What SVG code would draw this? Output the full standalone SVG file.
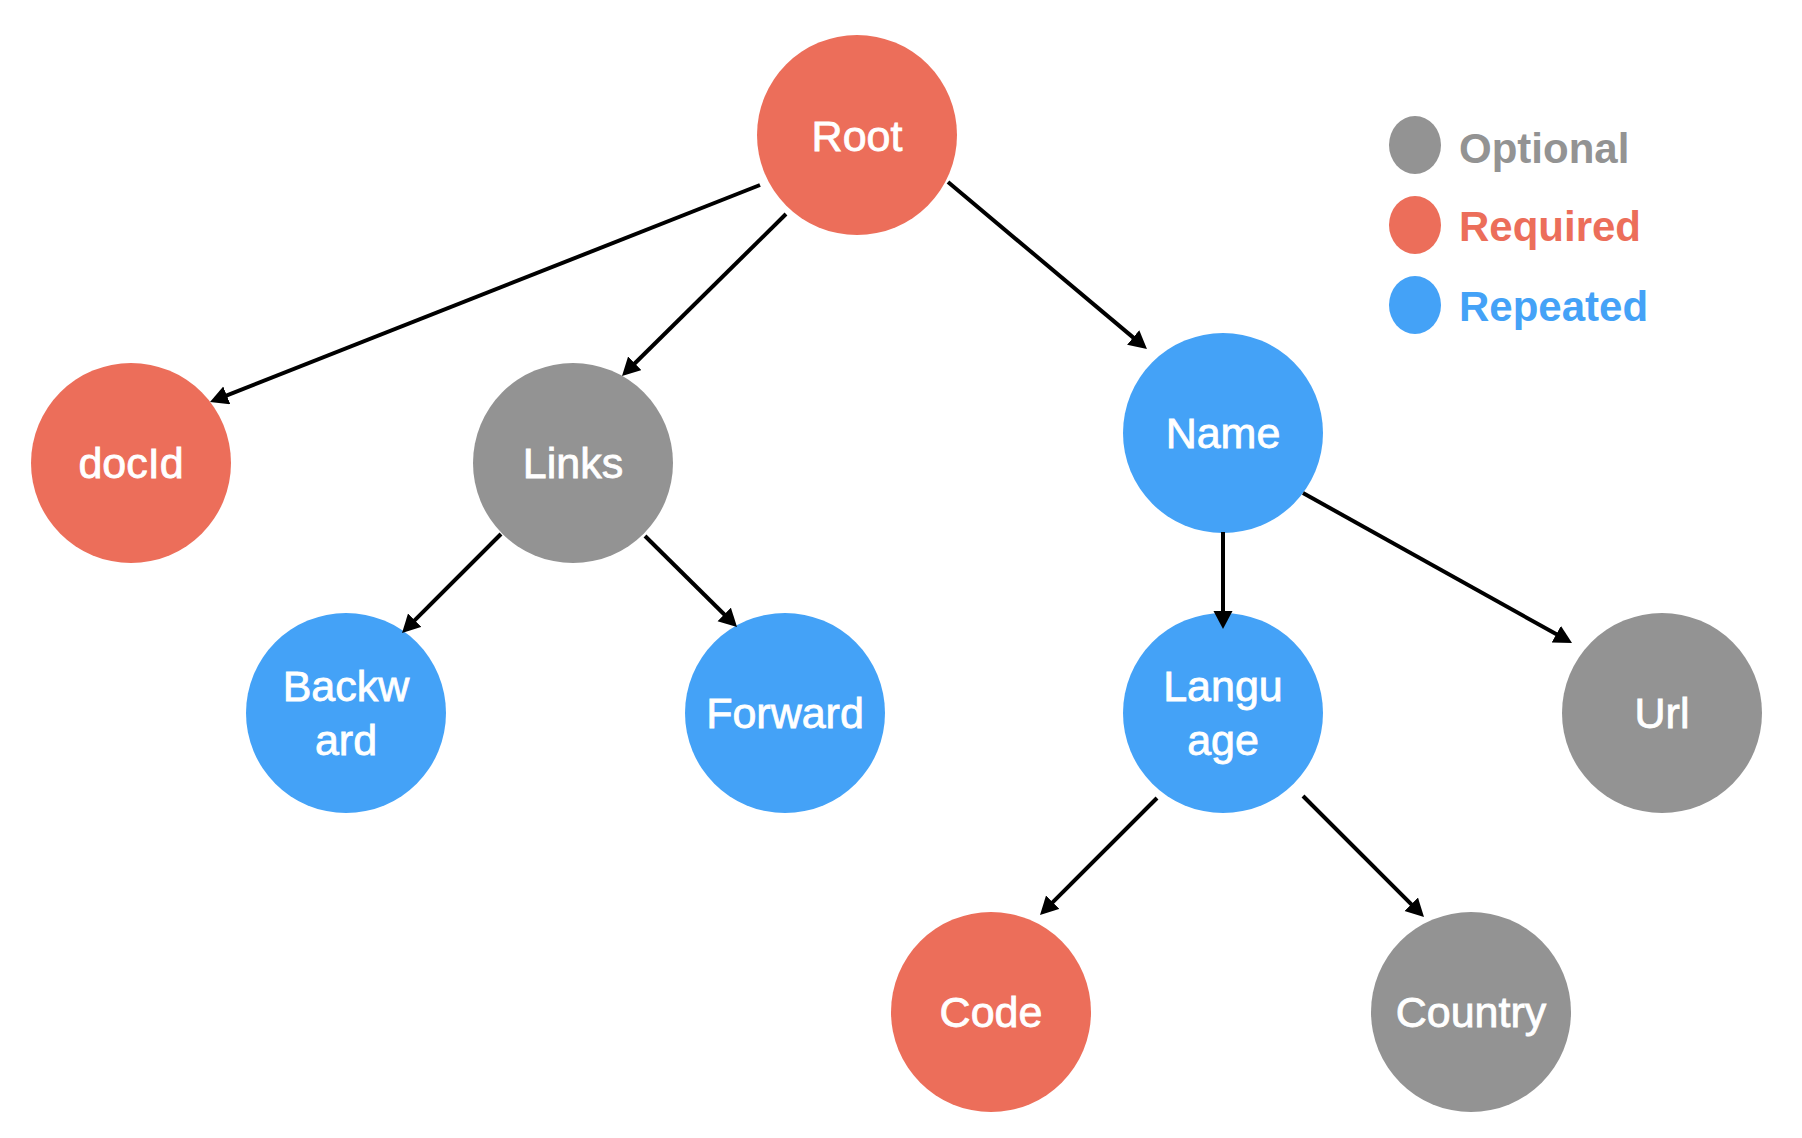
<svg xmlns="http://www.w3.org/2000/svg" width="1802" height="1138" viewBox="0 0 1802 1138">
<style>
.red{fill:#EC6E5A}
.grey{fill:#939393}
.blue{fill:#44A2F7}
.lbl{font-family:"Liberation Sans",Arial,Helvetica,sans-serif;font-size:43px;fill:#ffffff;stroke:#ffffff;stroke-width:0.8;text-anchor:middle}
.leg{font-family:"Liberation Sans",Arial,Helvetica,sans-serif;font-size:42px;font-weight:bold}
.edge{stroke:#000;stroke-width:4;fill:none;marker-end:url(#ah)}
</style>
<defs>
<marker id="ah" markerUnits="userSpaceOnUse" markerWidth="20" markerHeight="21" refX="8" refY="9.5" orient="auto" viewBox="0 0 20 21">
<path d="M0,0 L18,9.5 L0,19 z" fill="#000"/>
</marker>
</defs>
<rect width="1802" height="1138" fill="#ffffff"/>
<g id="node-root"><circle class="red" cx="857" cy="135" r="100"/><text class="lbl" x="857" y="151">Root</text></g>
<g id="node-docid"><circle class="red" cx="131" cy="463" r="100"/><text class="lbl" x="131" y="478">docId</text></g>
<g id="node-links"><circle class="grey" cx="573" cy="463" r="100"/><text class="lbl" x="573" y="478">Links</text></g>
<g id="node-name"><circle class="blue" cx="1223" cy="433" r="100"/><text class="lbl" x="1223" y="448">Name</text></g>
<g id="node-backward"><circle class="blue" cx="346" cy="713" r="100"/><text class="lbl" x="346" y="701">Backw</text><text class="lbl" x="346" y="755">ard</text></g>
<g id="node-forward"><circle class="blue" cx="785" cy="713" r="100"/><text class="lbl" x="785" y="728">Forward</text></g>
<g id="node-language"><circle class="blue" cx="1223" cy="713" r="100"/><text class="lbl" x="1223" y="701">Langu</text><text class="lbl" x="1223" y="755">age</text></g>
<g id="node-url"><circle class="grey" cx="1662" cy="713" r="100"/><text class="lbl" x="1662" y="728">Url</text></g>
<g id="node-code"><circle class="red" cx="991" cy="1012" r="100"/><text class="lbl" x="991" y="1027">Code</text></g>
<g id="node-country"><circle class="grey" cx="1471" cy="1012" r="100"/><text class="lbl" x="1471" y="1027">Country</text></g>
<g id="connectors">
<line class="edge" x1="760" y1="185" x2="219.3" y2="398.3"/>
<line class="edge" x1="786" y1="214" x2="629.1" y2="369"/>
<line class="edge" x1="948" y1="182" x2="1139.3" y2="342.6"/>
<line class="edge" x1="501" y1="534" x2="409.1" y2="625.9"/>
<line class="edge" x1="645" y1="536" x2="729.9" y2="620"/>
<line class="edge" x1="1223" y1="532" x2="1223" y2="619"/>
<line class="edge" x1="1303" y1="493" x2="1563.3" y2="638.1"/>
<line class="edge" x1="1157" y1="798" x2="1047.1" y2="907.9"/>
<line class="edge" x1="1303" y1="796" x2="1416.9" y2="909.9"/>
</g>
<g id="legend">
<ellipse class="grey" cx="1415" cy="145" rx="26" ry="29"/>
<text class="leg grey" x="1459" y="163">Optional</text>
<ellipse class="red" cx="1415" cy="225" rx="26" ry="29"/>
<text class="leg red" x="1459" y="241">Required</text>
<ellipse class="blue" cx="1415" cy="305" rx="26" ry="29"/>
<text class="leg blue" x="1459" y="321">Repeated</text>
</g>
</svg>
